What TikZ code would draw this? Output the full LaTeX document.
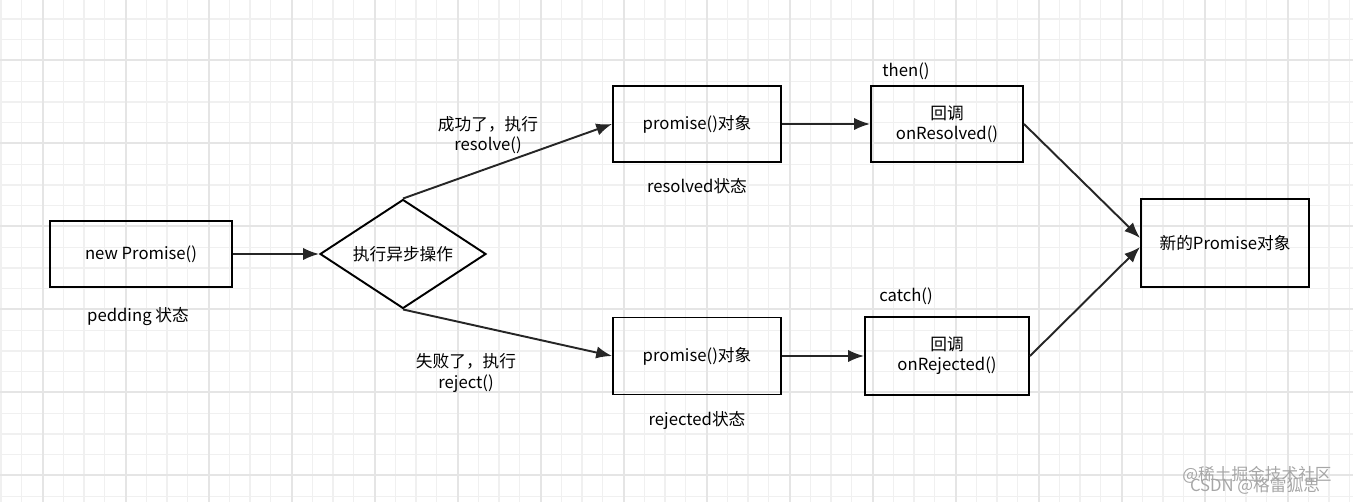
\documentclass[tikz,border=0pt]{standalone}
\usepackage{fontspec}
\setmainfont{Noto Sans CJK SC}
\usetikzlibrary{shapes.geometric,arrows.meta}

\tikzstyle{block} = [draw, thick, rectangle, align=center, font=\fontsize{9.5}{11.5}\selectfont, line width=1.1pt]
\tikzstyle{choice} = [draw, diamond, aspect=1.5, inner sep=1pt, font=\fontsize{9.5}{11.5}\selectfont, line width=1.1pt]
\tikzstyle{line} = [draw, line width=1.1pt, -{Latex[length=9pt,width=7pt]}, black!85]
\tikzstyle{label} = [align=center, font=\fontsize{9.5}{11.5}\selectfont]

\begin{document}
\begin{tikzpicture}[x=0.02cm,y=-0.02cm]
	\useasboundingbox (0,0) rectangle (1353,502);

	% grid
	\foreach \x in {1,21.75,...,1353} \draw[black!6, line width=0.6pt] (\x,0) -- (\x,502);
	\foreach \y in {19,39.75,...,502} \draw[black!6, line width=0.6pt] (0,\y) -- (1353,\y);
	\foreach \x in {43,126,...,1353} \draw[black!10, line width=0.8pt] (\x,0) -- (\x,502);
	\foreach \y in {60,143,...,502} \draw[black!10, line width=0.8pt] (0,\y) -- (1353,\y);

	% Place nodes
	\node at (141,254) [block, minimum width=182*0.02cm, minimum height=66*0.02cm](newp){new Promise()};
	\node at (403,254) [choice, minimum width=166*0.02cm, minimum height=109*0.02cm](exec){执行异步操作};
	\node at (697,124) [block, minimum width=168*0.02cm, minimum height=76*0.02cm](resp){promise()对象};
	\node at (697,356) [block, minimum width=168*0.02cm, minimum height=77*0.02cm](rejp){promise()对象};
	\node at (947,124) [block, minimum width=152*0.02cm, minimum height=76*0.02cm](onres){回调\\onResolved()};
	\node at (947,356) [block, minimum width=164*0.02cm, minimum height=78*0.02cm](onrej){回调\\onRejected()};
	\node at (1225,243) [block, minimum width=168*0.02cm, minimum height=88*0.02cm](newobj){新的Promise对象};

	\path[line] (newp) -- (exec);
	\path[line] (exec.north) -- (resp.west);
	\path[line] (exec.south) -- (rejp.west);
	\path[line] (resp) -- (onres);
	\path[line] (rejp) -- (onrej);
	\path[line] (onres.east) -- ([yshift=0.1cm]newobj.west);
	\path[line] (onrej.east) -- ([yshift=-0.08cm]newobj.west);

	\node at (488,135)[label]{成功了，执行\\resolve()};
	\node at (466,373)[label]{失败了，执行\\reject()};
	\node at (906,71)[label]{then()};
	\node at (906,296)[label]{catch()};
	\node at (697,186)[label]{resolved状态};
	\node at (697,420)[label]{rejected状态};
	\node at (138,317)[label]{pedding 状态};

	\node at (1257,475)[label, text=black!35]{@稀土掘金技术社区};
	\node at (1255,486)[label, text=black!35]{CSDN @格雷狐思};

\end{tikzpicture}
\end{document}
